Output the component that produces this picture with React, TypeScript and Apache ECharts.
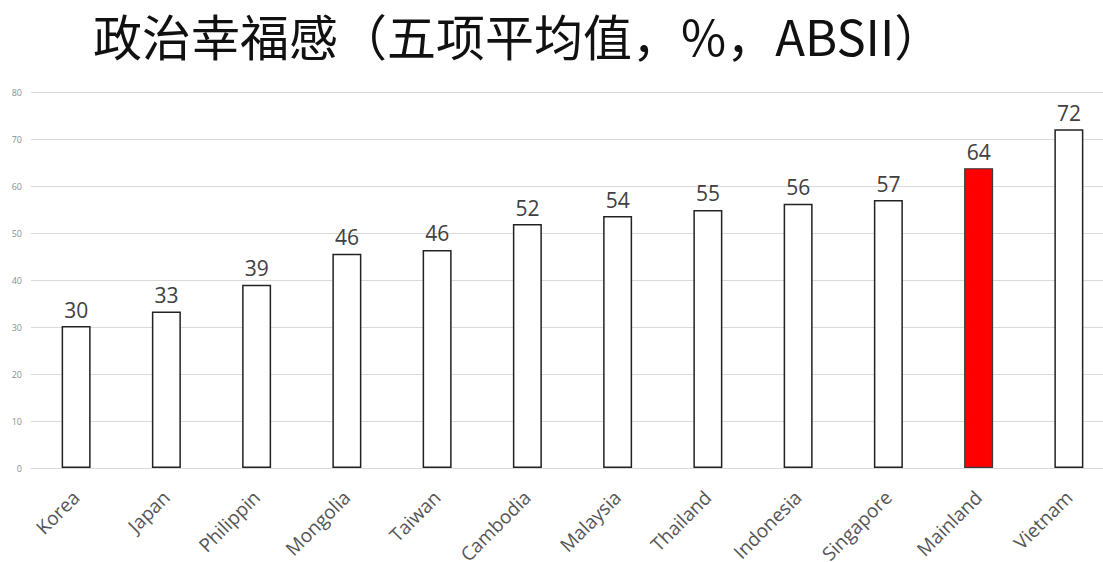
import React, { useEffect, useRef } from "react";
import * as echarts from "echarts";

const categories = ["Korea", "Japan", "Philippin", "Mongolia", "Taiwan", "Cambodia", "Malaysia", "Thailand", "Indonesia", "Singapore", "Mainland", "Vietnam"];
const values = [30.2, 33.3, 39.0, 45.6, 46.4, 51.9, 53.6, 54.9, 56.2, 57.0, 63.8, 72.1];
const highlight = "Mainland";
const yTicks = { min: 0, max: 80, interval: 10 };
const titleText = "政治幸福感（五项平均值，%，ABSII）";

export default function App() {
  const ref = useRef<HTMLDivElement>(null);
  useEffect(() => {
    document.body.style.margin = "0";
    const chart = echarts.init(ref.current!, null, { renderer: "svg" });
    chart.setOption({
      animation: false,
      backgroundColor: "#ffffff",
      title: {
        text: titleText,
        left: 88,
        top: 5,
        textStyle: { fontFamily: "Noto Sans CJK SC", fontSize: 49, fontWeight: "normal", color: "#111" },
      },
      grid: { left: 31, right: 11, top: 92, bottom: 94, containLabel: false, outerBoundsMode: "none" },
      xAxis: {
        type: "category",
        data: categories,
        axisLine: { show: true, lineStyle: { color: "#d9d9d9" } },
        axisTick: { show: false },
        axisLabel: {
          rotate: 45,
          interval: 0,
          fontFamily: "Open Sans",
          fontSize: 19,
          color: "#555",
          margin: 26,
        },
      },
      yAxis: {
        type: "value",
        min: yTicks.min,
        max: yTicks.max,
        interval: yTicks.interval,
        axisLine: { show: false },
        axisTick: { show: false },
        splitLine: { lineStyle: { color: "#d9d9d9", width: 1 } },
        axisLabel: { fontFamily: "Open Sans", fontSize: 9, color: "#8c8c8c", margin: 9 },
      },
      series: [
        {
          type: "bar",
          barWidth: 29,
          data: values.map((v, i) => ({
            value: v,
            itemStyle: categories[i] === highlight
              ? { color: "#ff0000", borderColor: "#3a3a3a", borderWidth: 1.2 }
              : { color: "#ffffff", borderColor: "#222", borderWidth: 1.5 },
          })),
          label: {
            show: true,
            position: "top",
            distance: 6,
            formatter: (p: any) => String(Math.round(p.value)),
            fontFamily: "Open Sans",
            fontSize: 21,
            color: "#404040",
          },
        },
      ],
    });
    return () => chart.dispose();
  }, []);
  return (
    <div style={{ position: "fixed", left: 0, top: 0, width: 1103, height: 562, overflow: "hidden" }}>
      <div ref={ref} style={{ width: 1125, height: 562 }} />
    </div>
  );
}
